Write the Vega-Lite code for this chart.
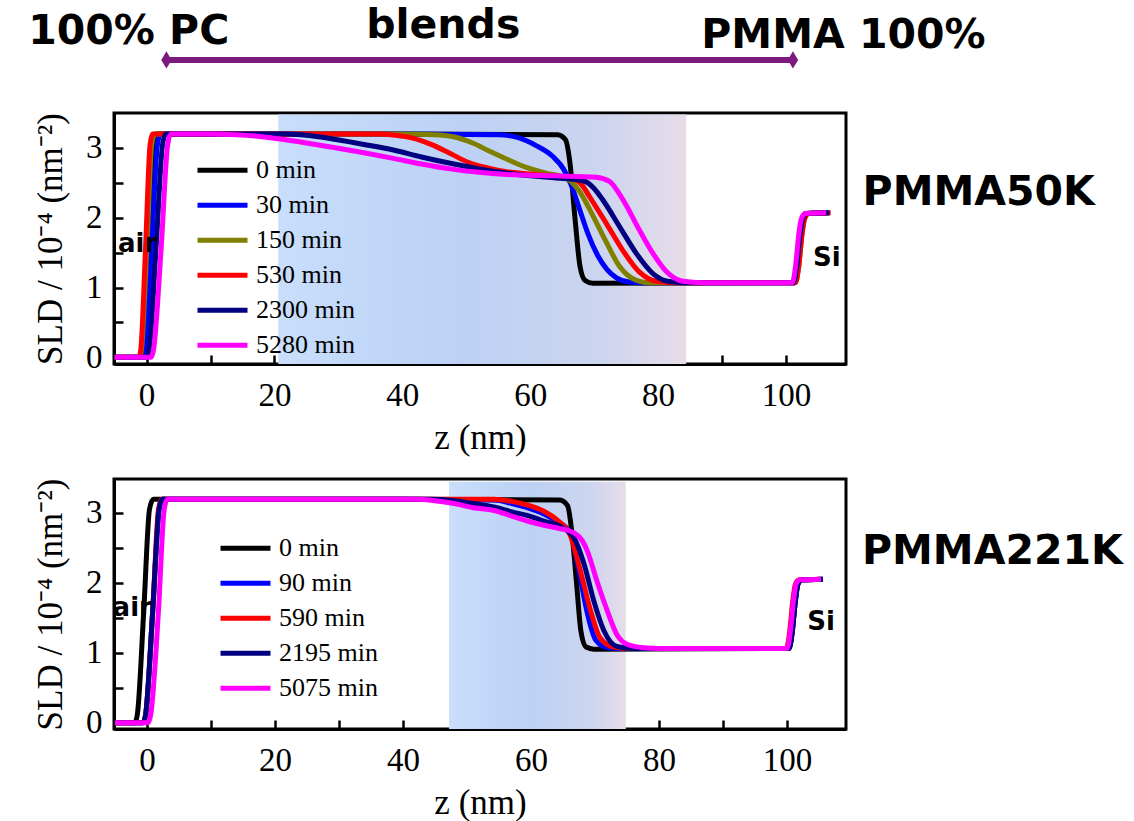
{
  "$schema": "https://vega.github.io/schema/vega-lite/v6.json",
  "background": "white",
  "padding": {"left": 26, "top": 3, "right": 2, "bottom": 5},
  "bounds": "flush",
  "spacing": 115,
  "resolve": {"scale": {"color": "independent", "x": "independent", "y": "independent"}, "legend": {"color": "independent"}},
  "vconcat": [
    {
      "width": 732,
      "height": 251,
      "encoding": {
        "x": {"field": "z", "type": "quantitative", "scale": {"domain": [-5.1, 109.4], "nice": false, "zero": false},
          "axis": {"values": [0, 10, 20, 30, 40, 50, 60, 70, 80, 90, 100], "labelExpr": "datum.value % 20 === 0 ? format(datum.value, 'd') : ''", "title": "z (nm)", "labelPadding": 24, "titlePadding": 8}},
        "y": {"field": "s", "type": "quantitative", "scale": {"domain": [-0.095, 3.5], "nice": false, "zero": false},
          "axis": {"values": [0, 0.5, 1, 1.5, 2, 2.5, 3], "labelExpr": "datum.value % 1 === 0 ? format(datum.value, 'd') : ''", "title": "SLD / 10⁻⁴ (nm⁻²)", "labelPadding": 21, "titlePadding": 17}}
      },
      "layer": [
        {
          "data": {"values": [{"z": 20.6, "z2": 84.4, "s": -0.095, "s2": 3.48}]},
          "mark": {"type": "rect", "color": {"gradient": "linear", "x1": 0, "y1": 0, "x2": 1, "y2": 0, "stops": [{"offset": 0, "color": "#c8defb"}, {"offset": 0.45, "color": "#bcd1f4"}, {"offset": 0.8, "color": "#cdd5ee"}, {"offset": 1, "color": "#e7dde9"}]}},
          "encoding": {"x2": {"field": "z2"}, "y2": {"field": "s2"}}
        },
        {
          "data": {"values": [
            {"t": "0 min", "z": -5, "s": 0}, {"t": "0 min", "z": -0.8, "s": 0}, {"t": "0 min", "z": -0.4, "s": 0.15}, {"t": "0 min", "z": 0.4, "s": 1.6}, {"t": "0 min", "z": 1.0, "s": 3.05}, {"t": "0 min", "z": 1.5, "s": 3.2}, {"t": "0 min", "z": 40, "s": 3.2}, {"t": "0 min", "z": 64.3, "s": 3.19}, {"t": "0 min", "z": 65.5, "s": 3.12}, {"t": "0 min", "z": 66.2, "s": 2.8}, {"t": "0 min", "z": 67.0, "s": 2.0}, {"t": "0 min", "z": 67.8, "s": 1.3}, {"t": "0 min", "z": 68.6, "s": 1.1}, {"t": "0 min", "z": 69.8, "s": 1.06}, {"t": "0 min", "z": 101.4, "s": 1.07}, {"t": "0 min", "z": 101.9, "s": 1.3}, {"t": "0 min", "z": 102.4, "s": 1.75}, {"t": "0 min", "z": 102.8, "s": 1.98}, {"t": "0 min", "z": 103.4, "s": 2.06}, {"t": "0 min", "z": 106.6, "s": 2.07},
            {"t": "30 min", "z": -5, "s": 0}, {"t": "30 min", "z": -0.4, "s": 0}, {"t": "30 min", "z": -0.1, "s": 0.12}, {"t": "30 min", "z": 0.8, "s": 1.6}, {"t": "30 min", "z": 1.7, "s": 3.05}, {"t": "30 min", "z": 2.2, "s": 3.2}, {"t": "30 min", "z": 40, "s": 3.2}, {"t": "30 min", "z": 55, "s": 3.19}, {"t": "30 min", "z": 58, "s": 3.15}, {"t": "30 min", "z": 61, "s": 3.03}, {"t": "30 min", "z": 63.5, "s": 2.88}, {"t": "30 min", "z": 65.2, "s": 2.7}, {"t": "30 min", "z": 66.5, "s": 2.45}, {"t": "30 min", "z": 67.8, "s": 2.1}, {"t": "30 min", "z": 69, "s": 1.78}, {"t": "30 min", "z": 70.5, "s": 1.47}, {"t": "30 min", "z": 72, "s": 1.26}, {"t": "30 min", "z": 73.5, "s": 1.14}, {"t": "30 min", "z": 75.5, "s": 1.08}, {"t": "30 min", "z": 77.5, "s": 1.07}, {"t": "30 min", "z": 101.2, "s": 1.07}, {"t": "30 min", "z": 101.7, "s": 1.3}, {"t": "30 min", "z": 102.2, "s": 1.75}, {"t": "30 min", "z": 102.6, "s": 1.98}, {"t": "30 min", "z": 103.2, "s": 2.06}, {"t": "30 min", "z": 106.8, "s": 2.07},
            {"t": "150 min", "z": -5, "s": 0}, {"t": "150 min", "z": -1.1, "s": 0}, {"t": "150 min", "z": -0.8, "s": 0.12}, {"t": "150 min", "z": 0.05, "s": 1.6}, {"t": "150 min", "z": 0.8, "s": 3.05}, {"t": "150 min", "z": 1.3, "s": 3.2}, {"t": "150 min", "z": 40, "s": 3.2}, {"t": "150 min", "z": 45, "s": 3.19}, {"t": "150 min", "z": 48, "s": 3.16}, {"t": "150 min", "z": 51, "s": 3.07}, {"t": "150 min", "z": 53.5, "s": 2.96}, {"t": "150 min", "z": 56.3, "s": 2.84}, {"t": "150 min", "z": 59.4, "s": 2.72}, {"t": "150 min", "z": 62.5, "s": 2.64}, {"t": "150 min", "z": 65.6, "s": 2.57}, {"t": "150 min", "z": 67.7, "s": 2.38}, {"t": "150 min", "z": 69.8, "s": 2.03}, {"t": "150 min", "z": 71.9, "s": 1.65}, {"t": "150 min", "z": 74, "s": 1.3}, {"t": "150 min", "z": 76, "s": 1.13}, {"t": "150 min", "z": 78.6, "s": 1.07}, {"t": "150 min", "z": 101.5, "s": 1.07}, {"t": "150 min", "z": 102, "s": 1.3}, {"t": "150 min", "z": 102.5, "s": 1.75}, {"t": "150 min", "z": 102.9, "s": 1.98}, {"t": "150 min", "z": 103.5, "s": 2.06}, {"t": "150 min", "z": 106.8, "s": 2.07},
            {"t": "530 min", "z": -5, "s": 0}, {"t": "530 min", "z": -1.2, "s": 0}, {"t": "530 min", "z": -0.9, "s": 0.12}, {"t": "530 min", "z": -0.15, "s": 1.6}, {"t": "530 min", "z": 0.55, "s": 3.05}, {"t": "530 min", "z": 1.0, "s": 3.2}, {"t": "530 min", "z": 36, "s": 3.2}, {"t": "530 min", "z": 39, "s": 3.18}, {"t": "530 min", "z": 41.6, "s": 3.14}, {"t": "530 min", "z": 44.5, "s": 3.05}, {"t": "530 min", "z": 47.5, "s": 2.92}, {"t": "530 min", "z": 50.4, "s": 2.79}, {"t": "530 min", "z": 53.5, "s": 2.71}, {"t": "530 min", "z": 56.3, "s": 2.66}, {"t": "530 min", "z": 59.4, "s": 2.63}, {"t": "530 min", "z": 62.5, "s": 2.61}, {"t": "530 min", "z": 66.7, "s": 2.56}, {"t": "530 min", "z": 68, "s": 2.48}, {"t": "530 min", "z": 69.3, "s": 2.3}, {"t": "530 min", "z": 71.9, "s": 1.92}, {"t": "530 min", "z": 74.5, "s": 1.53}, {"t": "530 min", "z": 77.1, "s": 1.22}, {"t": "530 min", "z": 79.7, "s": 1.09}, {"t": "530 min", "z": 82.3, "s": 1.07}, {"t": "530 min", "z": 101.5, "s": 1.07}, {"t": "530 min", "z": 102, "s": 1.3}, {"t": "530 min", "z": 102.5, "s": 1.75}, {"t": "530 min", "z": 102.9, "s": 1.98}, {"t": "530 min", "z": 103.5, "s": 2.06}, {"t": "530 min", "z": 107, "s": 2.07},
            {"t": "2300 min", "z": -5, "s": 0}, {"t": "2300 min", "z": -0.1, "s": 0}, {"t": "2300 min", "z": 0.4, "s": 0.12}, {"t": "2300 min", "z": 1.5, "s": 1.6}, {"t": "2300 min", "z": 2.5, "s": 3.05}, {"t": "2300 min", "z": 3.0, "s": 3.2}, {"t": "2300 min", "z": 22, "s": 3.2}, {"t": "2300 min", "z": 26, "s": 3.17}, {"t": "2300 min", "z": 29.6, "s": 3.12}, {"t": "2300 min", "z": 34, "s": 3.05}, {"t": "2300 min", "z": 38.6, "s": 2.97}, {"t": "2300 min", "z": 43, "s": 2.87}, {"t": "2300 min", "z": 47.5, "s": 2.78}, {"t": "2300 min", "z": 52, "s": 2.7}, {"t": "2300 min", "z": 56.3, "s": 2.64}, {"t": "2300 min", "z": 60, "s": 2.6}, {"t": "2300 min", "z": 64, "s": 2.57}, {"t": "2300 min", "z": 68.3, "s": 2.53}, {"t": "2300 min", "z": 70, "s": 2.42}, {"t": "2300 min", "z": 71.4, "s": 2.25}, {"t": "2300 min", "z": 74, "s": 1.87}, {"t": "2300 min", "z": 76.6, "s": 1.49}, {"t": "2300 min", "z": 79.2, "s": 1.2}, {"t": "2300 min", "z": 81.5, "s": 1.09}, {"t": "2300 min", "z": 84, "s": 1.07}, {"t": "2300 min", "z": 101.2, "s": 1.07}, {"t": "2300 min", "z": 101.7, "s": 1.3}, {"t": "2300 min", "z": 102.2, "s": 1.75}, {"t": "2300 min", "z": 102.6, "s": 1.98}, {"t": "2300 min", "z": 103.2, "s": 2.06}, {"t": "2300 min", "z": 106.8, "s": 2.07},
            {"t": "5280 min", "z": -5, "s": 0}, {"t": "5280 min", "z": 0.7, "s": 0}, {"t": "5280 min", "z": 1.1, "s": 0.12}, {"t": "5280 min", "z": 2.3, "s": 1.6}, {"t": "5280 min", "z": 3.3, "s": 3.05}, {"t": "5280 min", "z": 3.8, "s": 3.2}, {"t": "5280 min", "z": 10, "s": 3.2}, {"t": "5280 min", "z": 14, "s": 3.19}, {"t": "5280 min", "z": 17, "s": 3.17}, {"t": "5280 min", "z": 20.6, "s": 3.13}, {"t": "5280 min", "z": 25, "s": 3.07}, {"t": "5280 min", "z": 29.6, "s": 3.0}, {"t": "5280 min", "z": 34, "s": 2.93}, {"t": "5280 min", "z": 38.6, "s": 2.85}, {"t": "5280 min", "z": 43, "s": 2.77}, {"t": "5280 min", "z": 47.5, "s": 2.7}, {"t": "5280 min", "z": 52, "s": 2.65}, {"t": "5280 min", "z": 56.3, "s": 2.62}, {"t": "5280 min", "z": 64, "s": 2.6}, {"t": "5280 min", "z": 70.3, "s": 2.58}, {"t": "5280 min", "z": 72.4, "s": 2.52}, {"t": "5280 min", "z": 74.5, "s": 2.26}, {"t": "5280 min", "z": 77.1, "s": 1.82}, {"t": "5280 min", "z": 79.2, "s": 1.49}, {"t": "5280 min", "z": 81.3, "s": 1.23}, {"t": "5280 min", "z": 83.9, "s": 1.09}, {"t": "5280 min", "z": 87, "s": 1.07}, {"t": "5280 min", "z": 101, "s": 1.07}, {"t": "5280 min", "z": 101.5, "s": 1.3}, {"t": "5280 min", "z": 102, "s": 1.75}, {"t": "5280 min", "z": 102.4, "s": 1.98}, {"t": "5280 min", "z": 103, "s": 2.06}, {"t": "5280 min", "z": 106.3, "s": 2.07}
          ]},
          "mark": {"type": "line", "interpolate": "monotone", "strokeWidth": 5},
          "encoding": {
            "color": {"field": "t", "type": "nominal", "scale": {"domain": ["0 min", "30 min", "150 min", "530 min", "2300 min", "5280 min"], "range": ["#000000", "#0000ff", "#808000", "#ff0000", "#000080", "#ff00ff"]},
              "legend": {"orient": "none", "legendX": 81, "legendY": 40, "title": null}}
          }
        },
        {
          "data": {"values": [{"z": -1.4, "s": 1.63, "label": "air"}, {"z": 106.4, "s": 1.42, "label": "Si"}]},
          "mark": {"type": "text", "font": "DejaVu Sans", "fontWeight": "bold", "fontSize": 26, "color": "black", "align": "center", "baseline": "middle"},
          "encoding": {"text": {"field": "label"}}
        },
        {
          "data": {"values": [{"z": 112, "s": 2.36, "label": "PMMA50K"}]},
          "mark": {"type": "text", "font": "DejaVu Sans", "fontWeight": "bold", "fontSize": 41, "color": "black", "align": "left", "baseline": "middle"},
          "encoding": {"text": {"field": "label"}}
        },
        {
          "data": {"values": [{"z": -2.8, "s": 4.66, "label": "100% PC"}, {"z": 46.4, "s": 4.74, "label": "blends"}, {"z": 109, "s": 4.6, "label": "PMMA 100%"}]},
          "mark": {"type": "text", "font": "DejaVu Sans", "fontWeight": "bold", "fontSize": 41, "color": "black", "align": "center", "baseline": "middle"},
          "encoding": {"text": {"field": "label"}}
        },
        {
          "data": {"values": [{"z": 3.1, "z2": 101.1, "s": 4.26}]},
          "mark": {"type": "rule", "color": "#7d1a7d", "strokeWidth": 6},
          "encoding": {"x2": {"field": "z2"}}
        },
        {
          "data": {"values": [{"z": 3.1, "s": 4.26}, {"z": 101.1, "s": 4.26}]},
          "mark": {"type": "point", "shape": "M0,-1L0.6,0L0,1L-0.6,0Z", "size": 300, "filled": true, "opacity": 1, "color": "#7d1a7d"},
          "encoding": {}
        }
      ]
    },
    {
      "width": 732,
      "height": 250,
      "encoding": {
        "x": {"field": "z", "type": "quantitative", "scale": {"domain": [-5.15, 109.2], "nice": false, "zero": false},
          "axis": {"values": [0, 10, 20, 30, 40, 50, 60, 70, 80, 90, 100], "labelExpr": "datum.value % 20 === 0 ? format(datum.value, 'd') : ''", "title": "z (nm)", "labelPadding": 24, "titlePadding": 8}},
        "y": {"field": "s", "type": "quantitative", "scale": {"domain": [-0.09, 3.48], "nice": false, "zero": false},
          "axis": {"values": [0, 0.5, 1, 1.5, 2, 2.5, 3], "labelExpr": "datum.value % 1 === 0 ? format(datum.value, 'd') : ''", "title": "SLD / 10⁻⁴ (nm⁻²)", "labelPadding": 21, "titlePadding": 17}}
      },
      "layer": [
        {
          "data": {"values": [{"z": 47.2, "z2": 74.8, "s": -0.09, "s2": 3.44}]},
          "mark": {"type": "rect", "color": {"gradient": "linear", "x1": 0, "y1": 0, "x2": 1, "y2": 0, "stops": [{"offset": 0, "color": "#c8defb"}, {"offset": 0.45, "color": "#bcd1f4"}, {"offset": 0.8, "color": "#cdd5ee"}, {"offset": 1, "color": "#e7dde9"}]}},
          "encoding": {"x2": {"field": "z2"}, "y2": {"field": "s2"}}
        },
        {
          "data": {"values": [
            {"t": "0 min", "z": -5, "s": 0}, {"t": "0 min", "z": -1.9, "s": 0}, {"t": "0 min", "z": -1.5, "s": 0.12}, {"t": "0 min", "z": -0.5, "s": 1.6}, {"t": "0 min", "z": 0.4, "s": 3.05}, {"t": "0 min", "z": 1.0, "s": 3.19}, {"t": "0 min", "z": 40, "s": 3.19}, {"t": "0 min", "z": 64.5, "s": 3.18}, {"t": "0 min", "z": 65.7, "s": 3.1}, {"t": "0 min", "z": 66.4, "s": 2.7}, {"t": "0 min", "z": 67.1, "s": 2.0}, {"t": "0 min", "z": 67.8, "s": 1.3}, {"t": "0 min", "z": 68.6, "s": 1.08}, {"t": "0 min", "z": 69.8, "s": 1.05}, {"t": "0 min", "z": 100.3, "s": 1.06}, {"t": "0 min", "z": 100.8, "s": 1.3}, {"t": "0 min", "z": 101.3, "s": 1.75}, {"t": "0 min", "z": 101.7, "s": 1.98}, {"t": "0 min", "z": 102.3, "s": 2.04}, {"t": "0 min", "z": 105.5, "s": 2.05},
            {"t": "90 min", "z": -5, "s": 0}, {"t": "90 min", "z": -0.6, "s": 0}, {"t": "90 min", "z": -0.2, "s": 0.12}, {"t": "90 min", "z": 0.9, "s": 1.6}, {"t": "90 min", "z": 1.9, "s": 3.05}, {"t": "90 min", "z": 2.4, "s": 3.19}, {"t": "90 min", "z": 40, "s": 3.19}, {"t": "90 min", "z": 54.2, "s": 3.18}, {"t": "90 min", "z": 57, "s": 3.13}, {"t": "90 min", "z": 59.4, "s": 3.07}, {"t": "90 min", "z": 62, "s": 2.98}, {"t": "90 min", "z": 64, "s": 2.88}, {"t": "90 min", "z": 66.1, "s": 2.72}, {"t": "90 min", "z": 67.4, "s": 2.2}, {"t": "90 min", "z": 68.8, "s": 1.56}, {"t": "90 min", "z": 70.1, "s": 1.18}, {"t": "90 min", "z": 71.9, "s": 1.07}, {"t": "90 min", "z": 74, "s": 1.06}, {"t": "90 min", "z": 100.3, "s": 1.06}, {"t": "90 min", "z": 100.8, "s": 1.3}, {"t": "90 min", "z": 101.3, "s": 1.75}, {"t": "90 min", "z": 101.7, "s": 1.98}, {"t": "90 min", "z": 102.3, "s": 2.04}, {"t": "90 min", "z": 105.6, "s": 2.05},
            {"t": "590 min", "z": -5, "s": 0}, {"t": "590 min", "z": -0.6, "s": 0}, {"t": "590 min", "z": -0.2, "s": 0.12}, {"t": "590 min", "z": 0.9, "s": 1.6}, {"t": "590 min", "z": 1.8, "s": 3.05}, {"t": "590 min", "z": 2.3, "s": 3.19}, {"t": "590 min", "z": 40, "s": 3.19}, {"t": "590 min", "z": 54.2, "s": 3.19}, {"t": "590 min", "z": 57, "s": 3.16}, {"t": "590 min", "z": 59.4, "s": 3.11}, {"t": "590 min", "z": 62, "s": 3.02}, {"t": "590 min", "z": 64, "s": 2.9}, {"t": "590 min", "z": 66.1, "s": 2.68}, {"t": "590 min", "z": 67.7, "s": 2.17}, {"t": "590 min", "z": 69.3, "s": 1.6}, {"t": "590 min", "z": 70.8, "s": 1.21}, {"t": "590 min", "z": 72.9, "s": 1.08}, {"t": "590 min", "z": 75, "s": 1.06}, {"t": "590 min", "z": 99.9, "s": 1.06}, {"t": "590 min", "z": 100.4, "s": 1.3}, {"t": "590 min", "z": 100.9, "s": 1.75}, {"t": "590 min", "z": 101.3, "s": 1.98}, {"t": "590 min", "z": 101.9, "s": 2.04}, {"t": "590 min", "z": 105.3, "s": 2.05},
            {"t": "2195 min", "z": -5, "s": 0}, {"t": "2195 min", "z": -0.6, "s": 0}, {"t": "2195 min", "z": -0.2, "s": 0.12}, {"t": "2195 min", "z": 0.9, "s": 1.6}, {"t": "2195 min", "z": 1.9, "s": 3.05}, {"t": "2195 min", "z": 2.4, "s": 3.19}, {"t": "2195 min", "z": 44, "s": 3.19}, {"t": "2195 min", "z": 48, "s": 3.17}, {"t": "2195 min", "z": 51, "s": 3.13}, {"t": "2195 min", "z": 54.2, "s": 3.08}, {"t": "2195 min", "z": 57, "s": 3.01}, {"t": "2195 min", "z": 59.4, "s": 2.96}, {"t": "2195 min", "z": 62, "s": 2.88}, {"t": "2195 min", "z": 64.6, "s": 2.8}, {"t": "2195 min", "z": 66.7, "s": 2.64}, {"t": "2195 min", "z": 68.3, "s": 2.26}, {"t": "2195 min", "z": 69.8, "s": 1.74}, {"t": "2195 min", "z": 71.4, "s": 1.31}, {"t": "2195 min", "z": 73.4, "s": 1.09}, {"t": "2195 min", "z": 76, "s": 1.06}, {"t": "2195 min", "z": 100.3, "s": 1.06}, {"t": "2195 min", "z": 100.8, "s": 1.3}, {"t": "2195 min", "z": 101.3, "s": 1.75}, {"t": "2195 min", "z": 101.7, "s": 1.98}, {"t": "2195 min", "z": 102.3, "s": 2.04}, {"t": "2195 min", "z": 105.6, "s": 2.05},
            {"t": "5075 min", "z": -5, "s": 0}, {"t": "5075 min", "z": 0.2, "s": 0}, {"t": "5075 min", "z": 0.6, "s": 0.12}, {"t": "5075 min", "z": 1.8, "s": 1.6}, {"t": "5075 min", "z": 2.7, "s": 3.05}, {"t": "5075 min", "z": 3.2, "s": 3.19}, {"t": "5075 min", "z": 42, "s": 3.19}, {"t": "5075 min", "z": 45, "s": 3.17}, {"t": "5075 min", "z": 48, "s": 3.13}, {"t": "5075 min", "z": 51, "s": 3.07}, {"t": "5075 min", "z": 54.2, "s": 3.03}, {"t": "5075 min", "z": 57, "s": 2.95}, {"t": "5075 min", "z": 59.4, "s": 2.88}, {"t": "5075 min", "z": 62, "s": 2.82}, {"t": "5075 min", "z": 64.6, "s": 2.77}, {"t": "5075 min", "z": 66, "s": 2.74}, {"t": "5075 min", "z": 67.2, "s": 2.68}, {"t": "5075 min", "z": 68, "s": 2.6}, {"t": "5075 min", "z": 68.8, "s": 2.45}, {"t": "5075 min", "z": 70.3, "s": 2.02}, {"t": "5075 min", "z": 71.9, "s": 1.6}, {"t": "5075 min", "z": 73.4, "s": 1.26}, {"t": "5075 min", "z": 75, "s": 1.12}, {"t": "5075 min", "z": 77.6, "s": 1.07}, {"t": "5075 min", "z": 80, "s": 1.06}, {"t": "5075 min", "z": 100, "s": 1.06}, {"t": "5075 min", "z": 100.5, "s": 1.3}, {"t": "5075 min", "z": 101, "s": 1.75}, {"t": "5075 min", "z": 101.4, "s": 1.98}, {"t": "5075 min", "z": 102, "s": 2.04}, {"t": "5075 min", "z": 105.3, "s": 2.05}
          ]},
          "mark": {"type": "line", "interpolate": "monotone", "strokeWidth": 5},
          "encoding": {
            "color": {"field": "t", "type": "nominal", "scale": {"domain": ["0 min", "90 min", "590 min", "2195 min", "5075 min"], "range": ["#000000", "#0000ff", "#ff0000", "#000080", "#ff00ff"]},
              "legend": {"orient": "none", "legendX": 104, "legendY": 52, "title": null}}
          }
        },
        {
          "data": {"values": [{"z": -2.3, "s": 1.64, "label": "air"}, {"z": 105.3, "s": 1.44, "label": "Si"}]},
          "mark": {"type": "text", "font": "DejaVu Sans", "fontWeight": "bold", "fontSize": 26, "color": "black", "align": "center", "baseline": "middle"},
          "encoding": {"text": {"field": "label"}}
        },
        {
          "data": {"values": [{"z": 111.7, "s": 2.44, "label": "PMMA221K"}]},
          "mark": {"type": "text", "font": "DejaVu Sans", "fontWeight": "bold", "fontSize": 41, "color": "black", "align": "left", "baseline": "middle"},
          "encoding": {"text": {"field": "label"}}
        }
      ]
    }
  ],
  "config": {
    "view": {"stroke": "black", "strokeWidth": 3},
    "axis": {"domain": true, "domainColor": "black", "domainWidth": 3, "grid": false, "tickColor": "black", "tickWidth": 2.5, "tickSize": -9, "labelFont": "Liberation Serif", "labelFontSize": 33, "labelColor": "black", "labelFlush": false, "labelOverlap": false, "titleFont": "Liberation Serif", "titleFontSize": 35, "titleFontWeight": "normal", "titleColor": "black", "zindex": 1},
    "legend": {"symbolType": "stroke", "symbolStrokeWidth": 5, "symbolSize": 2500, "clipHeight": 34.5, "labelFont": "Liberation Serif", "labelFontSize": 26, "labelColor": "black", "labelOffset": 6, "rowPadding": 0}
  }
}
